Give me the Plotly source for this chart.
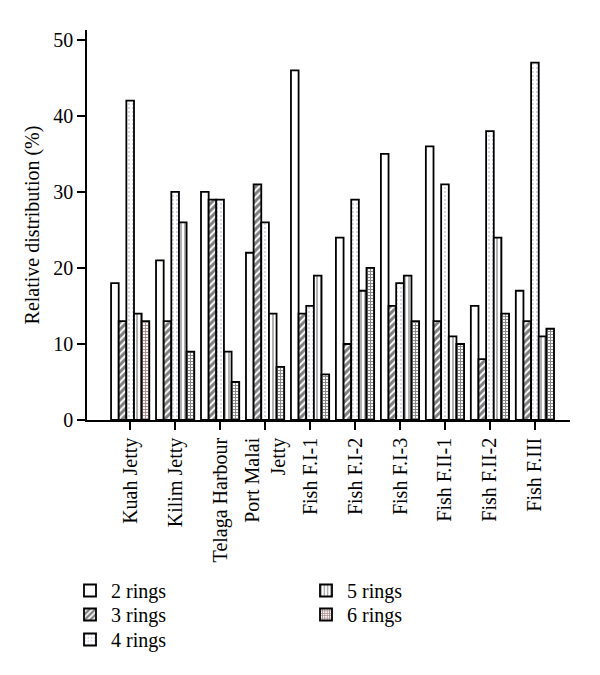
import plotly.graph_objects as go

sites = ["Kuah Jetty", "Kilim Jetty", "Telaga Harbour", "Port Malai<br>Jetty",
         "Fish F.I-1", "Fish F.I-2", "Fish F.I-3", "Fish F.II-1", "Fish F.II-2", "Fish F.III"]
rings2 = [18, 21, 30, 22, 46, 24, 35, 36, 15, 17]
rings3 = [13, 13, 29, 31, 14, 10, 15, 13, 8, 13]
rings4 = [42, 30, 29, 26, 15, 29, 18, 31, 38, 47]
rings5 = [14, 26, 9, 14, 19, 17, 19, 11, 24, 11]
rings6 = [13, 9, 5, 7, 6, 20, 13, 10, 14, 12]

FONT = "Liberation Serif"
FS = 20
x = list(range(len(sites)))

# page has an 8px body margin; work in figure coordinates
OFF = 8
W, H = 600, 675
L, R, T, B = 87 - OFF, 38, 30 - OFF, H - (420 - OFF)
pw, ph = W - L - R, H - T - B

def px(xp):  # page x -> paper
    return (xp - OFF - L) / pw

def py(yp):  # page y -> paper
    return (H - B - (yp - OFF)) / ph

fig = go.Figure()
specs = [
    ("2 rings", rings2, dict(shape="", fgcolor="black", bgcolor="white"), "legend2", 69, 571),
    ("3 rings", rings3, dict(shape="/", fgcolor="black", bgcolor="white", size=5, solidity=0.6), "legend3", 69, 595),
    ("4 rings", rings4, dict(shape=".", fgcolor="#8e95b4", bgcolor="white", size=4, solidity=0.18), "legend4", 69, 620),
    ("5 rings", rings5, dict(shape="|", fgcolor="black", bgcolor="white", size=4, solidity=0.3), "legend5", 305, 571),
    ("6 rings", rings6, dict(shape="+", fgcolor=["#5a1f1f"] + ["#111111"] * 9, bgcolor="white", size=3, solidity=0.6), "legend6", 305, 595),
]
legends = {}
for name, vals, pat, leg, lx, ly in specs:
    fig.add_trace(go.Bar(
        x=x, y=vals, name=name, legend=leg,
        marker=dict(color="white", line=dict(color="black", width=1.8), pattern=pat),
    ))
    legends[leg] = dict(x=px(lx), y=py(ly), xanchor="left", yanchor="top",
                        font=dict(family=FONT, size=FS), bgcolor="rgba(0,0,0,0)",
                        itemwidth=32)

fig.update_layout(
    width=W, height=H,
    margin=dict(l=L, r=R, t=T, b=B, autoexpand=False),
    plot_bgcolor="white", paper_bgcolor="white",
    barmode="group", bargap=0.15, bargroupgap=0,
    font=dict(family=FONT, size=FS, color="black"),
    showlegend=True,
    **legends,
)
fig.update_xaxes(
    tickmode="array", tickvals=x, ticktext=sites, tickangle=-90,
    range=[-0.96, 9.78], showline=True, linecolor="black", linewidth=1.5,
    ticks="outside", ticklen=8, tickwidth=1.5, tickcolor="black",
    showgrid=False, zeroline=False, tickfont=dict(family=FONT, size=FS),
    automargin=False,
)
fig.update_yaxes(
    range=[0, 51.3], tickvals=[0, 10, 20, 30, 40, 50],
    showline=True, linecolor="black", linewidth=1.5,
    ticks="outside", ticklen=8, tickwidth=1.5, tickcolor="black",
    showgrid=False, zeroline=False, automargin=False,
    title=dict(text="Relative distribution (%)", font=dict(family=FONT, size=FS), standoff=8),
    tickfont=dict(family=FONT, size=FS),
)
fig.write_html("out.html")
